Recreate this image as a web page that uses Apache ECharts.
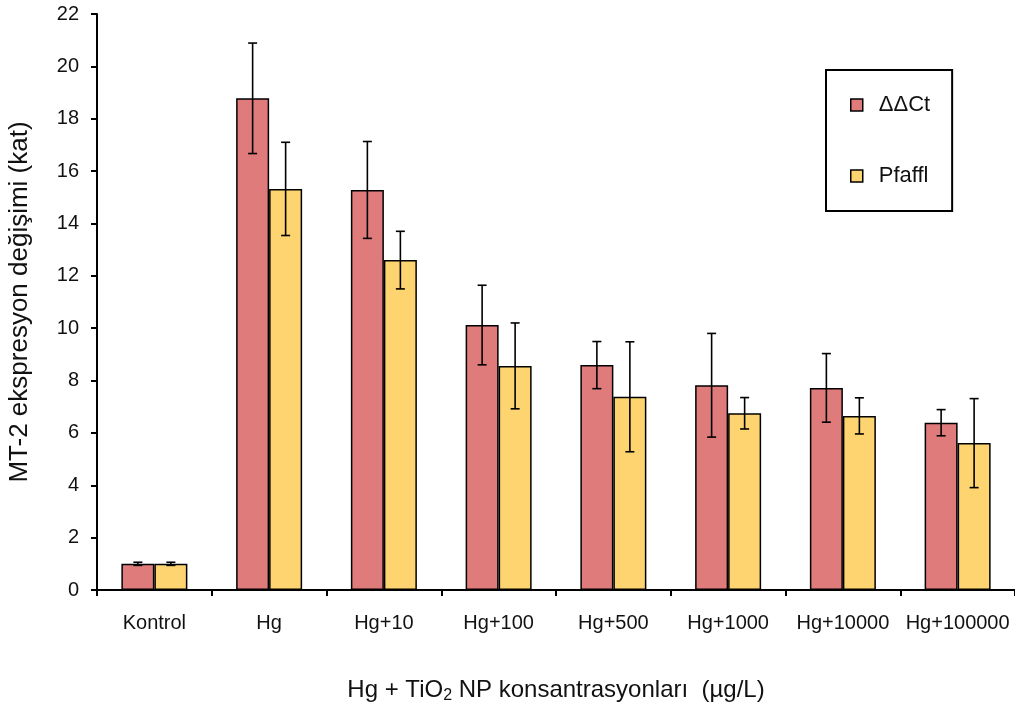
<!DOCTYPE html>
<html>
<head>
<meta charset="utf-8">
<script src="https://cdn.jsdelivr.net/npm/echarts@6/dist/echarts.min.js"></script>
<style>
html,body{margin:0;padding:0;background:#fff;}
#chart{width:1015px;height:706px;}
</style>
</head>
<body>
<div id="chart"></div>
<script>
const categories = ['Kontrol','Hg','Hg+10','Hg+100','Hg+500','Hg+1000','Hg+10000','Hg+100000'];
const ddctValues = [1.0, 18.78, 15.28, 10.12, 8.59, 7.82, 7.72, 6.39];
const ddctErrors = [0.06, 2.11, 1.85, 1.52, 0.90, 1.98, 1.31, 0.50];
const pfafflValues = [1.0, 15.32, 12.60, 8.56, 7.38, 6.75, 6.65, 5.61];
const pfafflErrors = [0.06, 1.78, 1.10, 1.64, 2.10, 0.60, 0.69, 1.70];
const yTicks = [0, 22, 2]; // min, max, interval

const FONT = 'Liberation Sans, Arial, sans-serif';
const BAR_W = 33;
const COL_A = '#E07B7C';
const COL_B = '#FDD46F';

function errData(vals, errs) {
  return vals.map((v, i) => [i, v, errs[i]]);
}
function errSeries(name, vals, errs, side) {
  return {
    type: 'custom',
    name: name + ' err',
    data: errData(vals, errs),
    encode: { x: 0, y: 1 },
    z: 10,
    silent: true,
    renderItem: function (params, api) {
      const i = api.value(0), v = api.value(1), e = api.value(2);
      const c = api.coord([i, v]);
      const x = c[0] + side * BAR_W / 2;
      const hi = api.coord([i, v + e])[1];
      const lo = api.coord([i, v - e])[1];
      const cap = 4.5;
      const st = { stroke: '#000', lineWidth: 1.6 };
      return {
        type: 'group',
        children: [
          { type: 'line', shape: { x1: x, y1: hi, x2: x, y2: lo }, style: st },
          { type: 'line', shape: { x1: x - cap, y1: hi, x2: x + cap, y2: hi }, style: st },
          { type: 'line', shape: { x1: x - cap, y1: lo, x2: x + cap, y2: lo }, style: st }
        ]
      };
    }
  };
}

const chart = echarts.init(document.getElementById('chart'), null, { renderer: 'canvas' });
chart.setOption({
  animation: false,
  backgroundColor: '#fff',
  textStyle: { fontFamily: FONT },
  grid: { left: 97, right: 0, top: 14, bottom: 116, containLabel: false, outerBoundsMode: 'none' },
  legend: {
    data: ['ΔΔCt', 'Pfaffl'],
    orient: 'vertical',
    left: 826, top: 70,
    padding: [24, 22, 24, 24],
    itemGap: 49,
    itemWidth: 12, itemHeight: 12,
    icon: 'rect',
    borderColor: '#000', borderWidth: 2,
    itemStyle: { borderColor: '#000', borderWidth: 1.5 },
    textStyle: { fontSize: 22, color: '#111', fontFamily: FONT, padding: [0, 0, 0, 11], lineHeight: 22 }
  },
  xAxis: {
    type: 'category',
    data: categories,
    name: 'Hg + TiO{sub|2} NP konsantrasyonları  (µg/L)',
    nameLocation: 'middle',
    nameGap: 86,
    nameTextStyle: {
      fontSize: 24, color: '#111', fontFamily: FONT,
      rich: { sub: { fontSize: 16, verticalAlign: 'bottom', padding: [12, 0, 0, 0], color: '#111', fontFamily: FONT } }
    },
    axisLine: { lineStyle: { color: '#000', width: 2 } },
    axisTick: { show: true, length: 6, interval: 0, lineStyle: { color: '#000', width: 2 } },
    axisLabel: { interval: 0, fontSize: 20, color: '#111', margin: 23, fontFamily: FONT },
    splitLine: { show: false }
  },
  yAxis: {
    type: 'value',
    min: yTicks[0], max: yTicks[1], interval: yTicks[2],
    name: 'MT-2 ekspresyon değişimi (kat)',
    nameLocation: 'middle',
    nameGap: 64,
    nameRotate: 90,
    nameTextStyle: { fontSize: 26, color: '#111', fontFamily: FONT },
    axisLine: { show: true, lineStyle: { color: '#000', width: 2 } },
    axisTick: { show: true, length: 6, lineStyle: { color: '#000', width: 2 } },
    axisLabel: { fontSize: 20, color: '#111', margin: 18, fontFamily: FONT },
    splitLine: { show: false }
  },
  series: [
    {
      name: 'ΔΔCt', type: 'bar', data: ddctValues,
      barWidth: BAR_W, barGap: '0%',
      itemStyle: { color: COL_A, borderColor: '#000', borderWidth: 1.5 }
    },
    {
      name: 'Pfaffl', type: 'bar', data: pfafflValues,
      barWidth: BAR_W, barGap: '0%',
      itemStyle: { color: COL_B, borderColor: '#000', borderWidth: 1.5 }
    },
    errSeries('ΔΔCt', ddctValues, ddctErrors, -1),
    errSeries('Pfaffl', pfafflValues, pfafflErrors, 1)
  ]
});
</script>
</body>
</html>
